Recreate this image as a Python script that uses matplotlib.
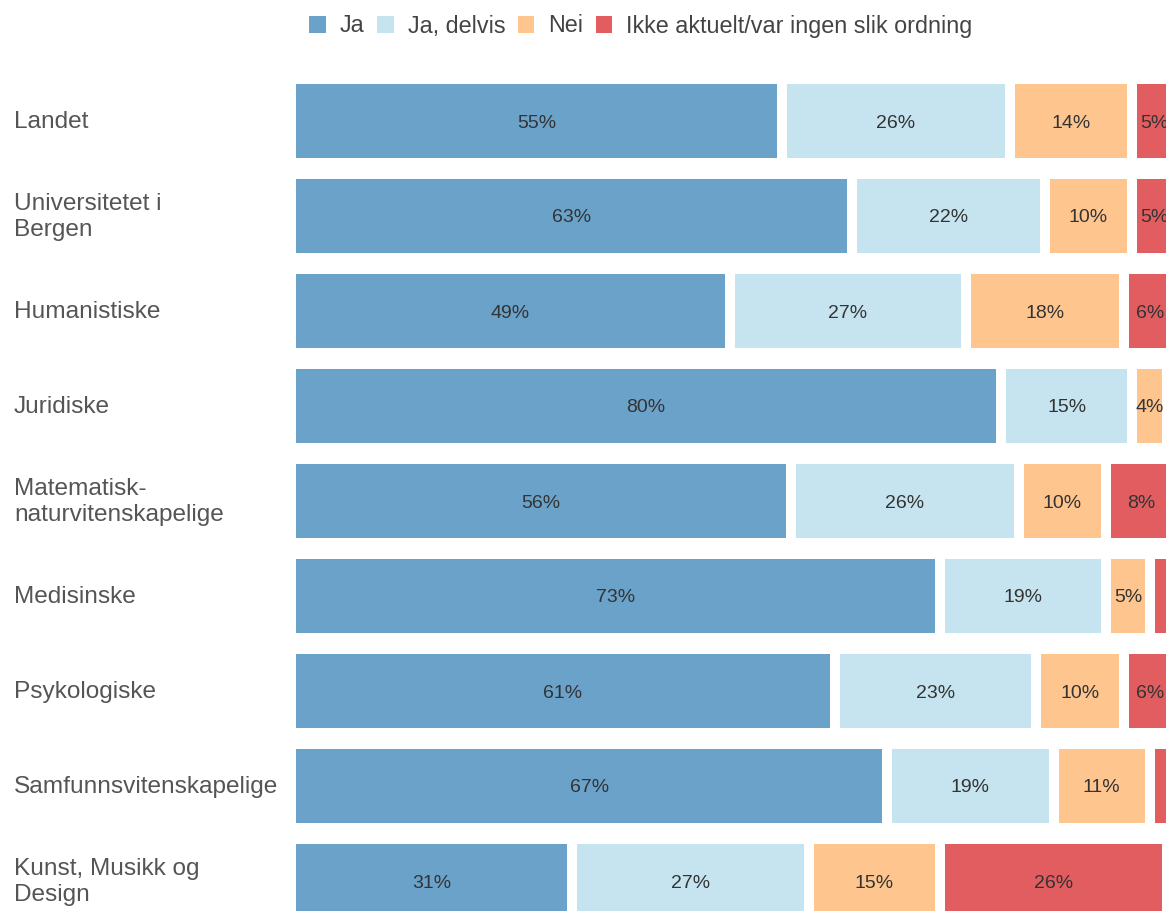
import numpy as np
import matplotlib.pyplot as plt
from matplotlib.patches import Patch

plt.rcParams['font.family'] = ['Liberation Sans', 'DejaVu Sans']

# data
categories = ['Landet', 'Universitetet i\nBergen', 'Humanistiske', 'Juridiske',
              'Matematisk-\nnaturvitenskapelige', 'Medisinske', 'Psykologiske',
              'Samfunnsvitenskapelige', 'Kunst, Musikk og\nDesign']
series = ['Ja', 'Ja, delvis', 'Nei', 'Ikke aktuelt/var ingen slik ordning']
ja = [55, 63, 49, 80, 56, 73, 61, 67, 31]
ja_delvis = [26, 22, 27, 15, 26, 19, 23, 19, 27]
nei = [14, 10, 18, 4, 10, 5, 10, 11, 15]
ikke = [5, 5, 6, 1, 8, 3, 6, 3, 26]
colors = ['#6aa2ca', '#c5e4ef', '#fec58f', '#e15d60']

values = np.array([ja, ja_delvis, nei, ikke], dtype=float)

W, H = 1166, 911
fig = plt.figure(figsize=(W / 100, H / 100), dpi=100)
# axes: 0% at x=296 px, 8.75 px per %, rows 95 px apart, first row centre at y=121
ax = fig.add_axes([296 / W, (H - 928.5) / H, 870 / W, 855 / H])
ax.set_xlim(0, 870 / 8.75)
ax.set_ylim(len(categories) - 0.5, -0.5)
ax.axis('off')

gap = 10 / 8.75
y = np.arange(len(categories))
cum = np.zeros(len(categories))
for i, (name, col) in enumerate(zip(series, colors)):
    v = values[i]
    off = gap if i > 0 else 0
    ax.barh(y, v - off, left=cum + off, height=0.78, color=col, edgecolor='none')
    for k in range(len(categories)):
        if v[k] >= 4:
            xc = cum[k] + off + (v[k] - off) / 2
            ax.text(xc, y[k], '%d%%' % v[k], ha='center', va='center_baseline',
                    fontsize=14, color='#333333')
    cum += v

for k, cat in enumerate(categories):
    ax.text(14 / W, 1 - (122 + 95 * k) / H, cat, transform=fig.transFigure,
            ha='left', va='center', fontsize=17.6, color='#555555',
            linespacing=1.25)

handles = [Patch(facecolor=c, edgecolor='none') for c in colors]
fig.legend(handles, series, loc='center', bbox_to_anchor=(641 / W, 1 - 26 / H),
           ncol=4, frameon=False, fontsize=16.8, handlelength=0.7,
           handleheight=0.7, handletextpad=0.6, columnspacing=0.55,
           labelcolor='#444444')

fig.savefig('out.png', dpi=100)
